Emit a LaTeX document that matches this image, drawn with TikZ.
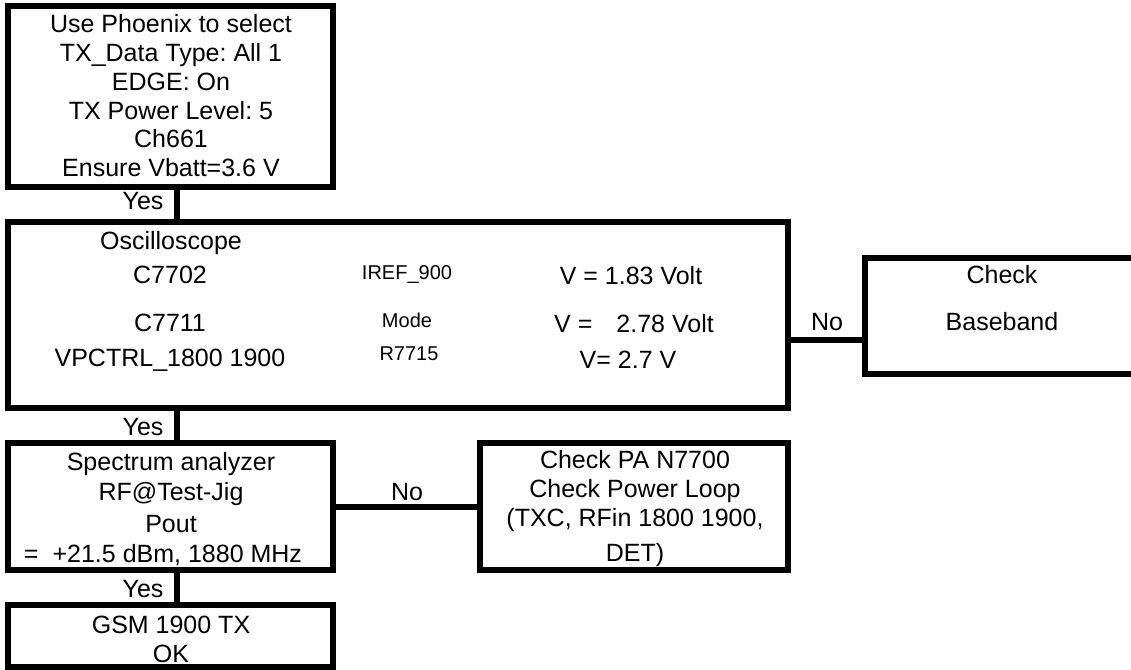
\documentclass[tikz,border=0pt]{standalone}
\usepackage{fontspec}
\setmainfont{Liberation Sans}
\frenchspacing
\begin{document}
\begin{tikzpicture}[x=1bp,y=-1bp,
  box/.style={draw, rectangle, line width=6bp, inner sep=0pt, outer sep=0pt},
  conn/.style={line width=6bp},
  txt/.style={anchor=base, inner sep=0pt, outer sep=0pt, font=\fontsize{25bp}{28bp}\selectfont\frenchspacing},
  sm/.style={txt, font=\fontsize{20bp}{24bp}\selectfont\frenchspacing}]
\useasboundingbox (0,0) rectangle (1131,670);
\clip (0,0) rectangle (1131,670);
% boxes
\node[box, minimum width=325bp, minimum height=181bp] (b1) at (170.5,96.5) {};
\node[box, minimum width=780bp, minimum height=186bp] (b2) at (398,315) {};
\node[box, minimum width=285bp, minimum height=116bp] (b3) at (1007.5,316) {};
\node[box, minimum width=325bp, minimum height=127bp] (b4) at (170.5,506.5) {};
\node[box, minimum width=308bp, minimum height=127bp] (b5) at (634,506.5) {};
\node[box, minimum width=325bp, minimum height=62bp] (b6) at (170.5,636) {};
% connector guides
\coordinate (vx) at (177,0);
\coordinate (h1) at (0,340);
\coordinate (h2) at (0,507);
\draw[conn] (b1.south -| vx) -- (b2.north -| vx);
\draw[conn] (b2.south -| vx) -- (b4.north -| vx);
\draw[conn] (b4.south -| vx) -- (b6.north -| vx);
\draw[conn] (b2.east |- h1) -- (b3.west |- h1);
\draw[conn] (b4.east |- h2) -- (b5.west |- h2);
% connector labels
\node[txt] (y1) at (143,210) {Yes};
\node[txt] (y2) at (143,435) {Yes};
\node[txt] (y3) at (143,597) {Yes};
\node[txt] (n1) at (827,330) {No};
\node[txt] (n2) at (407,500) {No};
% box 1
\node[txt] (a1) at (171,33) {Use Phoenix to select};
\node[txt] (a2) at (171,62) {TX\_Data Type: All 1};
\node[txt] (a3) at (171,91) {EDGE: On};
\node[txt] (a4) at (171,120) {TX Power Level: 5};
\node[txt] (a5) at (171,148) {Ch661};
\node[txt] (a6) at (171,177) {Ensure Vbatt=3.6 V};
% box 2
\node[txt] (o1) at (171,249) {Oscilloscope};
\node[txt] (o2) at (170,283) {C7702};
\node[txt] (o3) at (170,331) {C7711};
\node[txt] (o4) at (170,366) {VPCTRL\_1800 1900};
\node[sm] (o5) at (407,279) {IREF\_900};
\node[sm] (o6) at (407,327) {Mode};
\node[sm] (o7) at (409,360) {R7715};
\node[txt] (o8) at (631,284) {V = 1.83 Volt};
\node[txt] (o9) at (634,332) {V =\hspace{24bp}2.78 Volt};
\node[txt] (o10) at (628,368) {V= 2.7 V};
% box 3
\node[txt] (c1) at (1002,283) {Check};
\node[txt] (c2) at (1002,330) {Baseband};
% box 4
\node[txt] (s1) at (171,470) {Spectrum analyzer};
\node[txt] (s2) at (171,500) {RF@Test-Jig};
\node[txt] (s3) at (171,532) {Pout};
\node[txt] (s4) at (163,562) {=\hspace{14bp}+21.5 dBm, 1880 MHz};
% box 5
\node[txt] (p1) at (635,468) {Check PA N7700};
\node[txt] (p2) at (635,497) {Check Power Loop};
\node[txt] (p3) at (635,526) {(TXC, RFin 1800 1900,};
\node[txt] (p4) at (635,561) {DET)};
% box 6
\node[txt] (g1) at (171,633) {GSM 1900 TX};
\node[txt] (g2) at (171,662) {OK};
\end{tikzpicture}
\end{document}
